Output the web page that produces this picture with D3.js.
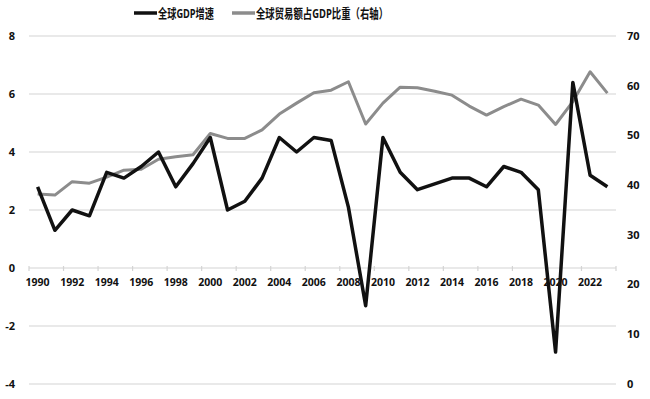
<!DOCTYPE html>
<html>
<head>
<meta charset="utf-8">
<script src="https://cdn.jsdelivr.net/npm/d3@7"></script>
<style>
  body { margin: 0; background: #fff; }
  text { font-family: "Open Sans", "Noto Sans CJK SC", sans-serif; font-weight: bold; }
</style>
</head>
<body>
<div id="chart"></div>
<script>
// years on the category axis
const years = d3.range(1990, 2024);
// global GDP growth, %, left axis
const gdpGrowth = [2.8, 1.3, 2.0, 1.8, 3.3, 3.1, 3.5, 4.0, 2.8, 3.6,
  4.5, 2.0, 2.3, 3.1, 4.5, 4.0, 4.5, 4.4, 2.1, -1.3,
  4.5, 3.3, 2.7, 2.9, 3.1, 3.1, 2.8, 3.5, 3.3, 2.7,
  -2.9, 6.4, 3.2, 2.8];
// global trade as share of GDP, %, right axis
const tradeShare = [38.2, 38.0, 40.7, 40.4, 41.6, 43.0, 43.2, 45.2, 45.7, 46.1,
  50.4, 49.4, 49.4, 51.1, 54.3, 56.5, 58.6, 59.1, 60.8, 52.3,
  56.5, 59.7, 59.6, 58.9, 58.1, 55.9, 54.1, 55.8, 57.3, 56.1,
  52.2, 56.8, 62.8, 58.5];
const leftTicks = [-4, -2, 0, 2, 4, 6, 8];
const rightTicks = [0, 10, 20, 30, 40, 50, 60, 70];
const seriesNames = ["全球GDP增速", "全球贸易额占GDP比重（右轴）"];

const width = 650, height = 399;
const margin = {top: 36, right: 34, bottom: 15, left: 29};

const svg = d3.select("#chart").append("svg")
  .attr("width", width).attr("height", height);

const x = d3.scaleBand().domain(years).range([margin.left, width - margin.right]);
const yL = d3.scaleLinear().domain([-4, 8]).range([height - margin.bottom, margin.top]);
const yR = d3.scaleLinear().domain([0, 70]).range([height - margin.bottom, margin.top]);

// gridlines
svg.append("g").selectAll("line").data(leftTicks.filter(d => d !== 0)).join("line")
  .attr("x1", margin.left).attr("x2", width - margin.right)
  .attr("y1", d => yL(d)).attr("y2", d => yL(d))
  .attr("stroke", "#d4d4d4").attr("stroke-width", 1.2);

// left axis labels
svg.append("g").selectAll("text").data(leftTicks).join("text")
  .attr("x", 15).attr("y", d => yL(d)).attr("dy", "0.35em")
  .attr("text-anchor", "end").attr("font-size", 11).attr("fill", "#111")
  .text(d => d);

// right axis labels
svg.append("g").selectAll("text").data(rightTicks).join("text")
  .attr("x", 627).attr("y", d => yR(d)).attr("dy", "0.35em")
  .attr("text-anchor", "start").attr("font-size", 11).attr("fill", "#111")
  .text(d => d);

// category axis at zero
const xAxis = svg.append("g").attr("transform", `translate(0,${yL(0)})`);
xAxis.append("line")
  .attr("x1", margin.left).attr("x2", width - margin.right)
  .attr("stroke", "#d4d4d4").attr("stroke-width", 1.2);
const tickYears = years.filter((d, i) => i % 2 === 0);
xAxis.selectAll(".tk").data(tickYears.concat([null])).join("line")
  .attr("class", "tk")
  .attr("x1", d => d === null ? width - margin.right : x(d))
  .attr("x2", d => d === null ? width - margin.right : x(d))
  .attr("y1", -2).attr("y2", 3)
  .attr("stroke", "#d4d4d4").attr("stroke-width", 1.2);
xAxis.selectAll("text").data(tickYears).join("text")
  .attr("x", d => x(d) + x.bandwidth() / 2).attr("y", 18)
  .attr("text-anchor", "middle").attr("font-size", 10.5).attr("fill", "#111")
  .text(d => d);

const cx = d => x(d) + x.bandwidth() / 2;

svg.append("path").datum(tradeShare)
  .attr("fill", "none").attr("stroke", "#8c8c8c").attr("stroke-width", 3)
  .attr("stroke-linejoin", "round")
  .attr("d", d3.line().x((d, i) => cx(years[i])).y(d => yR(d)));

svg.append("path").datum(gdpGrowth)
  .attr("fill", "none").attr("stroke", "#111").attr("stroke-width", 3.5)
  .attr("stroke-linejoin", "round")
  .attr("d", d3.line().x((d, i) => cx(years[i])).y(d => yL(d)));

// legend
const legend = svg.append("g").attr("transform", "translate(0,13)");
const legendItems = [
  {name: seriesNames[0], color: "#111", x0: 134, w: 56},
  {name: seriesNames[1], color: "#8c8c8c", x0: 232, w: 132}
];
legendItems.forEach(it => {
  legend.append("line").attr("x1", it.x0).attr("x2", it.x0 + 23)
    .attr("stroke", it.color).attr("stroke-width", 3.5);
  legend.append("text").attr("x", it.x0 + 24).attr("dy", "0.36em")
    .attr("font-size", 13).attr("fill", "#111")
    .attr("textLength", it.w).attr("lengthAdjust", "spacingAndGlyphs")
    .text(it.name);
});
</script>
</body>
</html>
